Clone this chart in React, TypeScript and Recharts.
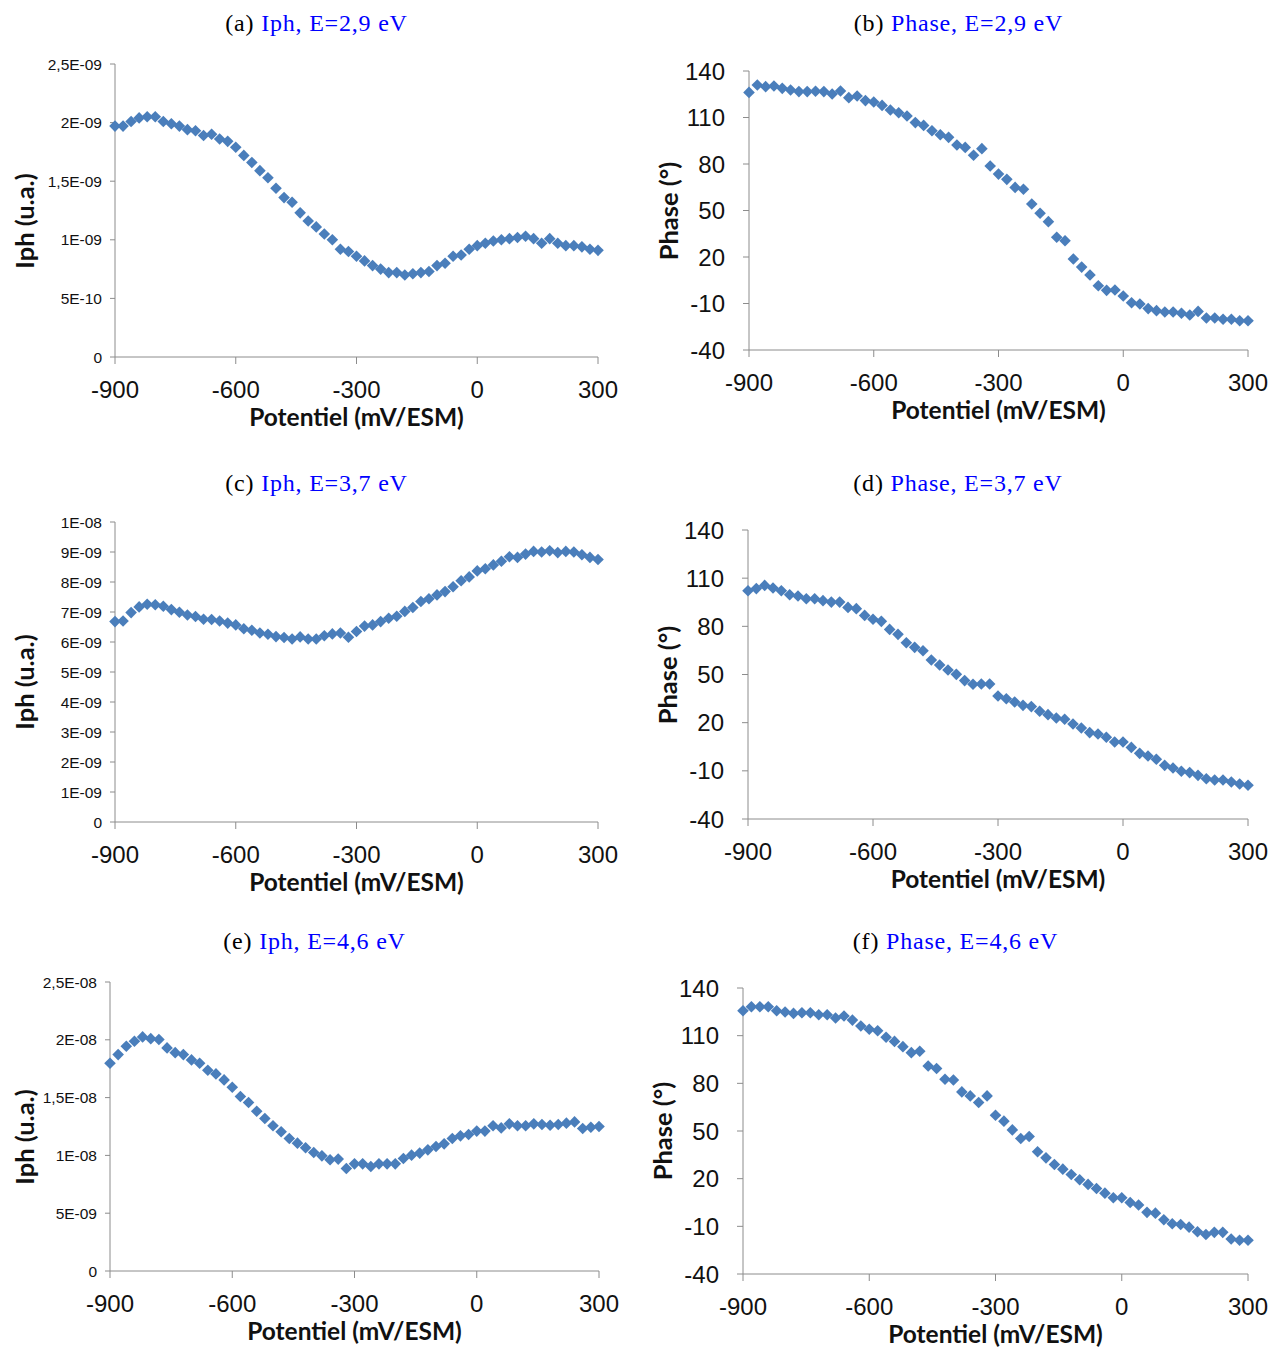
import React from 'react'
import { ScatterChart, Scatter, XAxis, YAxis } from 'recharts'

// potentials, mV/ESM, step 20 mV
const POTENTIALS = [
	-900, -880, -860, -840, -820, -800, -780, -760, -740, -720,
	-700, -680, -660, -640, -620, -600, -580, -560, -540, -520,
	-500, -480, -460, -440, -420, -400, -380, -360, -340, -320,
	-300, -280, -260, -240, -220, -200, -180, -160, -140, -120,
	-100, -80, -60, -40, -20, 0, 20, 40, 60, 80,
	100, 120, 140, 160, 180, 200, 220, 240, 260, 280, 300,
]

// Iph in units of 1E-09
const IPH_29 = [
	1.97, 1.97, 2.01, 2.04, 2.05, 2.05, 2.01, 1.99, 1.97, 1.94,
	1.93, 1.89, 1.9, 1.86, 1.84, 1.79, 1.72, 1.66, 1.59, 1.53,
	1.44, 1.36, 1.32, 1.23, 1.16, 1.11, 1.05, 1.0, 0.92, 0.9,
	0.86, 0.82, 0.78, 0.75, 0.72, 0.72, 0.7, 0.71, 0.72, 0.73,
	0.78, 0.8, 0.86, 0.87, 0.92, 0.95, 0.97, 0.99, 1.0, 1.01,
	1.02, 1.03, 1.01, 0.97, 1.01, 0.97, 0.95, 0.95, 0.94, 0.92, 0.91,
]
const PHASE_29 = [
	126.2, 131.0, 129.9, 130.3, 128.8, 127.7, 126.7, 126.7, 126.9, 126.7,
	125.2, 127.1, 122.8, 123.9, 120.9, 120.0, 117.8, 114.8, 113.1, 111.0,
	106.7, 104.9, 101.5, 98.9, 97.2, 92.3, 90.7, 85.6, 89.9, 78.7,
	73.5, 70.1, 64.9, 63.7, 54.2, 48.2, 42.8, 32.7, 30.5, 18.7,
	13.5, 8.4, 1.5, -1.5, -1.3, -5.2, -9.5, -10.3, -13.3, -14.6,
	-15.5, -15.5, -16.3, -17.4, -15.1, -19.4, -19.4, -20.2, -20.2, -21.1, -21.1,
]
const IPH_37 = [
	6.68, 6.7, 6.98, 7.17, 7.26, 7.24, 7.19, 7.08, 6.99, 6.9,
	6.85, 6.76, 6.75, 6.7, 6.63, 6.57, 6.44, 6.39, 6.3, 6.26,
	6.18, 6.15, 6.1, 6.17, 6.1, 6.1, 6.21, 6.27, 6.3, 6.16,
	6.35, 6.53, 6.57, 6.68, 6.79, 6.86, 7.02, 7.15, 7.35, 7.44,
	7.57, 7.68, 7.84, 8.04, 8.17, 8.37, 8.44, 8.57, 8.69, 8.84,
	8.82, 8.93, 9.02, 9.0, 9.04, 8.98, 9.02, 9.0, 8.91, 8.82, 8.75,
]
const PHASE_37 = [
	102.2, 103.5, 105.5, 103.9, 102.2, 99.7, 98.9, 97.2, 97.2, 96.0,
	95.1, 95.1, 91.8, 91.0, 86.8, 84.4, 83.1, 78.1, 75.0, 69.8,
	66.9, 64.8, 59.0, 55.9, 52.8, 50.1, 46.2, 43.9, 44.1, 44.1,
	36.6, 34.9, 32.9, 30.8, 30.0, 27.1, 25.0, 22.9, 22.1, 19.2,
	16.7, 13.8, 12.9, 10.9, 8.0, 8.0, 4.6, 0.9, -0.8, -2.8,
	-6.6, -8.2, -10.3, -11.1, -12.8, -14.9, -15.7, -15.7, -17.0, -18.2, -19.0,
]
const IPH_46 = [
	17.97, 18.72, 19.44, 19.87, 20.25, 20.1, 20.02, 19.3, 18.89, 18.72,
	18.26, 17.97, 17.37, 17.05, 16.53, 15.9, 15.09, 14.57, 13.82, 13.19,
	12.56, 12.04, 11.46, 11.06, 10.66, 10.25, 9.96, 9.62, 9.68, 8.87,
	9.27, 9.27, 9.04, 9.27, 9.27, 9.27, 9.73, 10.02, 10.2, 10.48,
	10.77, 11.0, 11.46, 11.69, 11.81, 12.1, 12.1, 12.56, 12.38, 12.73,
	12.56, 12.56, 12.73, 12.67, 12.61, 12.67, 12.79, 12.9, 12.33, 12.44, 12.5,
]
const PHASE_46 = [
	125.7, 128.2, 128.2, 128.2, 125.7, 124.9, 124.0, 124.4, 124.4, 123.2,
	123.2, 121.1, 122.4, 119.8, 116.1, 114.0, 113.1, 109.0, 106.4, 103.1,
	99.3, 100.2, 90.9, 89.3, 82.6, 82.1, 74.6, 72.1, 67.9, 72.1,
	59.9, 56.2, 50.7, 45.3, 46.5, 36.9, 33.1, 28.9, 26.0, 22.6,
	19.3, 16.4, 13.8, 10.9, 8.0, 8.0, 5.0, 3.4, -1.2, -1.7,
	-5.9, -8.4, -8.8, -10.5, -13.4, -15.1, -13.8, -13.8, -18.0, -18.8, -18.8,
]

const X_TICKS = [-900, -600, -300, 0, 300]
const IPH_TICKS_29 = [0, 0.5e-9, 1e-9, 1.5e-9, 2e-9, 2.5e-9]
const IPH_TICKS_37 = [0, 1e-9, 2e-9, 3e-9, 4e-9, 5e-9, 6e-9, 7e-9, 8e-9, 9e-9, 1e-8]
const IPH_TICKS_46 = [0, 5e-9, 1e-8, 1.5e-8, 2e-8, 2.5e-8]
const PHASE_TICKS = [-40, -10, 20, 50, 80, 110, 140]

const BLUE = '#4a7ebb'
const AXIS = '#8c8c8c'
const SANS = '"Liberation Sans", Arial, sans-serif'
const BOLD = 'Lato, "Open Sans", sans-serif'
const SERIF = '"Liberation Serif", "Times New Roman", serif'

// Excel style "2,5E-09"
const sci = (v: number) => {
	if (v === 0) return '0'
	let e = Math.floor(Math.log10(v) + 1e-9)
	let m = Math.round((v / Math.pow(10, e)) * 10) / 10
	if (m >= 10) {
		m = m / 10
		e += 1
	}
	const sign = e < 0 ? '-' : '+'
	const ee = String(Math.abs(e)).padStart(2, '0')
	return `${String(m).replace('.', ',')}E${sign}${ee}`
}

const build = (ys: number[], k: number) => POTENTIALS.map((x, i) => ({ x, y: ys[i] * k }))

const Diamond = (props: any) => {
	const { cx, cy } = props
	if (cx == null || cy == null) return null
	const r = 5.8
	return (
		<polygon
			points={`${cx},${cy - r} ${cx + r},${cy} ${cx},${cy + r} ${cx - r},${cy}`}
			fill={BLUE}
		/>
	)
}

const XTick = (props: any) => (
	<text
		x={props.x}
		y={props.y + 25}
		textAnchor="middle"
		dominantBaseline="central"
		fontSize={24}
		fontFamily={SANS}
		fill="#111"
	>
		{props.payload.value}
	</text>
)

const makeYTick = (size: number, fmt: (v: number) => string) => (props: any) => (
	<text
		x={props.x}
		y={props.y}
		textAnchor="end"
		dominantBaseline="central"
		fontSize={size}
		fontFamily={SANS}
		fill="#111"
	>
		{fmt(props.payload.value)}
	</text>
)

interface IPanel {
	letter: string
	label: string
	data: { x: number; y: number }[]
	yTicks: number[]
	phase: boolean
	plot: { left: number; top: number; right: number; bottom: number }
	titleY: number
}

const L = 130
const T = 20
const R = 30
const B = 50

const Panel: React.FC<{ p: IPanel }> = ({ p }) => {
	const w = p.plot.right - p.plot.left
	const h = p.plot.bottom - p.plot.top
	const cx = (p.plot.left + p.plot.right) / 2
	const yTick = p.phase ? makeYTick(24, (v) => String(v)) : makeYTick(15.5, sci)
	return (
		<>
			<div
				style={{
					position: 'absolute',
					left: cx - 40,
					top: p.titleY,
					transform: 'translate(-50%, -50%)',
					whiteSpace: 'nowrap',
					fontFamily: SERIF,
					fontSize: 24,
					letterSpacing: 0.8,
				}}
			>
				<span style={{ color: '#000' }}>({p.letter})</span>{' '}
				<span style={{ color: '#0000ff' }}>{p.label}</span>
			</div>
			<div style={{ position: 'absolute', left: p.plot.left - L, top: p.plot.top - T }}>
				<ScatterChart
					width={w + L + R}
					height={h + T + B}
					margin={{ top: T, right: R, bottom: 0, left: 0 }}
				>
					<XAxis
						type="number"
						dataKey="x"
						domain={[-900, 300]}
						ticks={X_TICKS}
						interval={0}
						height={B}
						tickSize={7}
						tickMargin={0}
						tick={XTick}
						stroke={AXIS}
						tickLine={{ stroke: AXIS }}
					/>
					<YAxis
						type="number"
						dataKey="y"
						domain={[p.yTicks[0], p.yTicks[p.yTicks.length - 1]]}
						ticks={p.yTicks}
						interval={0}
						width={L}
						tickSize={p.phase ? 6 : 5}
						tickMargin={p.phase ? 18 : 8}
						tick={yTick}
						stroke={AXIS}
						tickLine={{ stroke: AXIS }}
					/>
					<Scatter data={p.data} shape={Diamond} isAnimationActive={false} />
				</ScatterChart>
			</div>
			<div
				style={{
					position: 'absolute',
					left: cx,
					top: p.plot.bottom + 59,
					transform: 'translate(-50%, -50%)',
					whiteSpace: 'nowrap',
					fontFamily: BOLD,
					fontWeight: 700,
					fontSize: 24.5,
					color: '#111',
				}}
			>
				Potentiel (mV/ESM)
			</div>
			<div
				style={{
					position: 'absolute',
					left: p.phase ? p.plot.left - 81 : 24,
					top: (p.plot.top + p.plot.bottom) / 2 + (p.phase ? 0 : 10),
					transform: 'translate(-50%, -50%) rotate(-90deg)',
					whiteSpace: 'nowrap',
					fontFamily: BOLD,
					fontWeight: 700,
					fontSize: 25.5,
					color: '#111',
				}}
			>
				{p.phase ? 'Phase (°)' : 'Iph (u.a.)'}
			</div>
		</>
	)
}

const PANELS: IPanel[] = [
	{
		letter: 'a',
		label: 'Iph, E=2,9 eV',
		data: build(IPH_29, 1e-9),
		yTicks: IPH_TICKS_29,
		phase: false,
		plot: { left: 115, top: 64, right: 598, bottom: 357 },
		titleY: 23,
	},
	{
		letter: 'b',
		label: 'Phase, E=2,9 eV',
		data: build(PHASE_29, 1),
		yTicks: PHASE_TICKS,
		phase: true,
		plot: { left: 749, top: 71, right: 1248, bottom: 350 },
		titleY: 23,
	},
	{
		letter: 'c',
		label: 'Iph, E=3,7 eV',
		data: build(IPH_37, 1e-9),
		yTicks: IPH_TICKS_37,
		phase: false,
		plot: { left: 115, top: 522, right: 598, bottom: 822 },
		titleY: 483,
	},
	{
		letter: 'd',
		label: 'Phase, E=3,7 eV',
		data: build(PHASE_37, 1),
		yTicks: PHASE_TICKS,
		phase: true,
		plot: { left: 748, top: 530, right: 1248, bottom: 819 },
		titleY: 483,
	},
	{
		letter: 'e',
		label: 'Iph, E=4,6 eV',
		data: build(IPH_46, 1e-9),
		yTicks: IPH_TICKS_46,
		phase: false,
		plot: { left: 110, top: 982, right: 599, bottom: 1271 },
		titleY: 941,
	},
	{
		letter: 'f',
		label: 'Phase, E=4,6 eV',
		data: build(PHASE_46, 1),
		yTicks: PHASE_TICKS,
		phase: true,
		plot: { left: 743, top: 988, right: 1248, bottom: 1274 },
		titleY: 941,
	},
]

const App: React.FC = () => (
	<div style={{ position: 'absolute', left: 0, top: 0, width: 1274, height: 1348, background: '#fff' }}>
		{PANELS.map((p) => (
			<Panel key={p.letter} p={p} />
		))}
	</div>
)

export default App
